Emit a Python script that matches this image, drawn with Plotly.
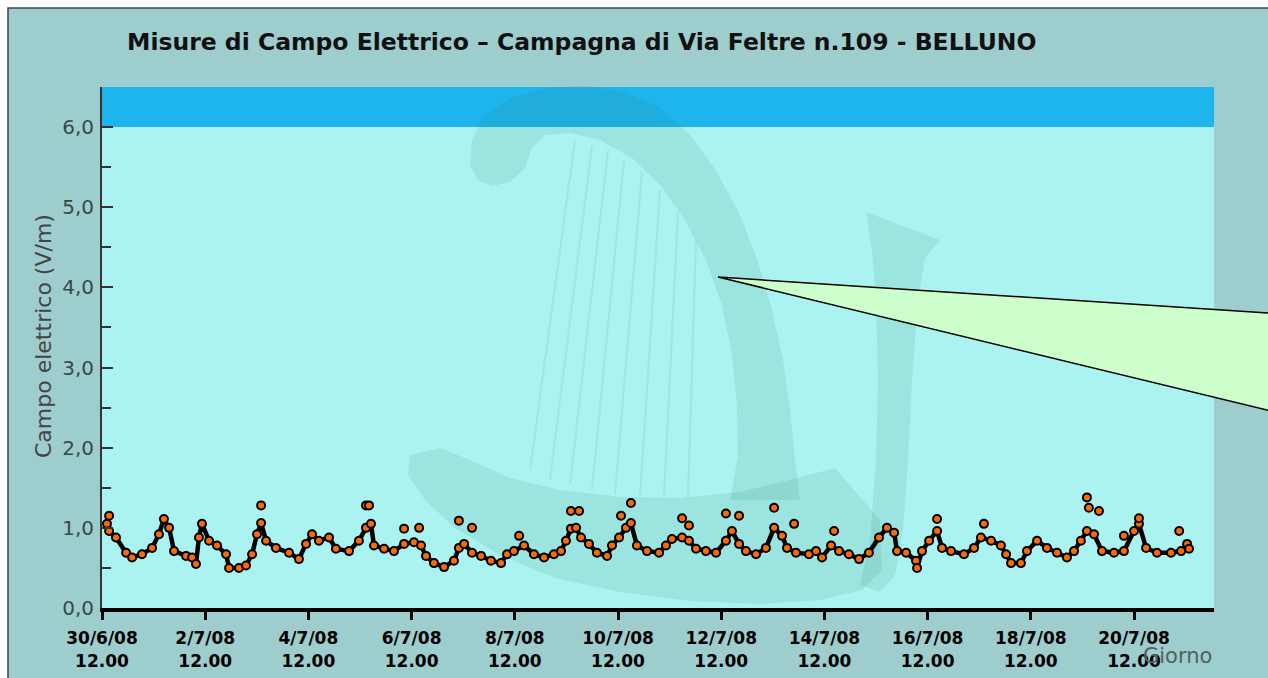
import plotly.graph_objects as go
import pandas as pd

# ---- data ----
start = pd.Timestamp("2008-06-30 12:00")
hours = [3.3, 6.5, 11.2, 14.0, 18.6, 23.3, 26.5, 28.8, 31.2, 33.5, 39.1, 41.9, 43.7, 45.1, 46.5,
         49.8, 53.5, 57.7, 59.1, 63.7, 67.0, 69.8, 72.1, 74.0, 76.3, 80.9, 87.0, 91.6, 94.9, 97.7,
         100.9, 105.6, 108.8, 114.9, 119.5, 122.8, 125.1, 126.5, 131.2, 135.8, 140.5, 145.1, 148.4,
         150.7, 154.4, 159.1, 163.7, 166.0, 168.4, 172.1, 176.3, 180.9, 185.6, 188.4, 191.6, 196.3,
         200.9, 205.6, 210.2, 213.5, 215.8, 218.1, 220.5, 222.8, 226.5, 230.2, 234.9, 237.2, 240.5,
         243.7, 246.0, 248.8, 253.5, 259.1, 262.3, 265.1, 269.8, 273.0, 276.3, 280.9, 285.6, 290.2,
         293.0, 296.3, 299.5, 304.2, 308.8, 312.6, 316.3, 318.6, 322.8, 328.8, 332.1, 334.9, 339.1,
         342.8, 347.4, 352.1, 356.7, 361.4, 365.1, 368.4, 369.8, 374.0, 378.6, 379.1, 381.4, 384.7,
         388.4, 390.7, 394.9, 400.9, 405.6, 408.8, 413.5, 418.1, 420.5, 422.8, 427.4, 430.2, 434.9,
         439.5, 444.2, 448.8, 452.1, 455.3, 458.1, 461.4, 465.1, 470.7, 475.3, 480.0, 482.3, 485.6,
         490.7, 497.2, 501.9, 504.7, 505.6]
values = [0.96, 0.88, 0.69, 0.63, 0.67, 0.75, 0.92, 1.11, 1.00, 0.71, 0.65, 0.63, 0.55, 0.88, 1.05,
          0.84, 0.78, 0.67, 0.50, 0.50, 0.53, 0.67, 0.92, 1.06, 0.84, 0.75, 0.69, 0.61, 0.80, 0.92,
          0.84, 0.88, 0.74, 0.71, 0.84, 1.00, 1.05, 0.78, 0.74, 0.71, 0.80, 0.82, 0.78,
          0.65, 0.56, 0.51, 0.59, 0.75, 0.80, 0.69, 0.65, 0.59, 0.56, 0.67, 0.71, 0.78,
          0.67, 0.63, 0.67, 0.71, 0.84, 0.99, 1.00, 0.88, 0.80, 0.69, 0.65, 0.78, 0.88,
          1.00, 1.06, 0.78, 0.71, 0.69, 0.78, 0.86, 0.88, 0.84, 0.74, 0.71, 0.69, 0.84,
          0.96, 0.80, 0.71, 0.67, 0.75, 1.00, 0.90, 0.75, 0.69, 0.67, 0.71, 0.63, 0.78,
          0.71, 0.67, 0.61, 0.69, 0.88, 1.00, 0.94, 0.71, 0.69, 0.59, 0.50, 0.71, 0.84,
          0.96, 0.75, 0.71, 0.67, 0.75, 0.88, 0.84, 0.78, 0.67, 0.56, 0.56, 0.71, 0.84,
          0.75, 0.69, 0.63, 0.71, 0.84, 0.96, 0.92, 0.71, 0.69, 0.71, 0.96, 1.05, 0.75,
          0.69, 0.69, 0.71, 0.80, 0.74]
spike_hours = [2.3, 3.3, 74.0, 122.8, 124.2, 140.5, 147.5, 166.0, 172.1, 194.0, 218.1, 221.9,
               241.4, 246.0, 269.8, 273.0, 290.2, 296.3, 312.6, 321.9, 340.5, 388.4, 410.2,
               458.1, 459.0, 463.7, 475.3, 482.3, 501.0]
spike_values = [1.05, 1.15, 1.28, 1.28, 1.28, 0.99, 1.00, 1.09, 1.00, 0.90, 1.21, 1.21,
                1.15, 1.31, 1.12, 1.03, 1.18, 1.15, 1.25, 1.05, 0.96, 1.11, 1.05,
                1.38, 1.25, 1.21, 0.90, 1.12, 0.96]
tick_days = [0, 2, 4, 6, 8, 10, 12, 14, 16, 18, 20]
tick_labels = ["30/6/08<br>12.00", "2/7/08<br>12.00", "4/7/08<br>12.00", "6/7/08<br>12.00",
               "8/7/08<br>12.00", "10/7/08<br>12.00", "12/7/08<br>12.00", "14/7/08<br>12.00",
               "16/7/08<br>12.00", "18/7/08<br>12.00", "20/7/08<br>12.00"]
y_ticks = [0, 1, 2, 3, 4, 5, 6]
limit_low, limit_high = 6.0, 6.5

times = start + pd.to_timedelta(hours, unit="h")
spike_times = start + pd.to_timedelta(spike_hours, unit="h")
tick_times = [start + pd.Timedelta(days=d) for d in tick_days]

# ---- layout geometry ----
WIDTH, HEIGHT = 1268, 678
L, R, T, B = 102, 54, 87, 70
PW, PH = WIDTH - L - R, HEIGHT - T - B


def P(px, py):
    return (px - L) / PW, (HEIGHT - B - py) / PH


def poly(points):
    pts = [P(x, y) for x, y in points]
    return "M " + " L ".join(f"{x:.5f},{y:.5f}" for x, y in pts) + " Z"


fig = go.Figure()
fig.add_trace(go.Scatter(
    x=times, y=values, mode="lines+markers",
    line=dict(color="black", width=4.5),
    marker=dict(size=8, color="#FF6A00", line=dict(color="black", width=2)),
    showlegend=False, hoverinfo="skip"))
fig.add_trace(go.Scatter(
    x=spike_times, y=spike_values, mode="markers",
    marker=dict(size=8, color="#FF6A00", line=dict(color="black", width=2)),
    showlegend=False, hoverinfo="skip"))

shapes = []
# outer frame
x0, y0 = P(8, 8)
x1, y1 = P(1290, 700)
shapes.append(dict(type="rect", xref="paper", yref="paper", x0=x0, y0=y1, x1=x1, y1=y0,
                   fillcolor="#9DCDCD", line=dict(color="#444444", width=1.5), layer="below"))
# plot area fill
shapes.append(dict(type="rect", xref="paper", yref="paper", x0=0, y0=0, x1=1, y1=1,
                   fillcolor="#ABF3F1", line=dict(width=0), layer="below"))
# limit band
shapes.append(dict(type="rect", xref="paper", yref="paper", x0=0, x1=1,
                   y0=limit_low / limit_high, y1=1,
                   fillcolor="#1EB4EE", line=dict(width=0), layer="below"))
# watermark (harp)
wm = "rgba(40,120,110,0.12)"
arc = [(470, 165), (472, 140), (485, 115), (510, 98), (545, 88), (585, 86), (625, 92), (660, 108),
       (690, 135), (717, 172), (740, 215), (758, 262), (772, 310), (783, 360), (790, 410),
       (795, 460), (800, 500), (730, 500), (738, 455), (737, 405), (732, 355), (722, 305),
       (706, 260), (685, 220), (660, 185), (632, 158), (600, 140), (570, 133), (545, 135),
       (532, 148), (525, 168), (510, 182), (492, 186), (478, 180)]
bowl = [(410, 455), (440, 448), (470, 460), (510, 478), (560, 490), (620, 497), (680, 498),
        (740, 492), (790, 480), (835, 468), (880, 520), (882, 570), (862, 590), (820, 600),
        (760, 604), (690, 601), (620, 592), (555, 578), (500, 555), (455, 528), (425, 500),
        (408, 475)]
jstroke = [(866, 212), (940, 240), (925, 258), (918, 300), (912, 380), (908, 460), (903, 530),
           (895, 575), (880, 592), (860, 585), (870, 540), (876, 460), (878, 380), (876, 300),
           (872, 250)]
for pts in (arc, bowl, jstroke):
    shapes.append(dict(type="path", xref="paper", yref="paper", path=poly(pts),
                       fillcolor=wm, line=dict(width=0), layer="below"))
strings = [((575, 140), (530, 470)), ((592, 145), (550, 480)), ((608, 150), (570, 485)),
           ((624, 160), (592, 490)), ((642, 172), (615, 494)), ((660, 190), (640, 496)),
           ((678, 212), (664, 497)), ((696, 240), (688, 497))]
for (ax, ay), (bx, by) in strings:
    a, b = P(ax, ay), P(bx, by)
    shapes.append(dict(type="line", xref="paper", yref="paper", x0=a[0], y0=a[1], x1=b[0], y1=b[1],
                       line=dict(color="rgba(40,120,110,0.10)", width=2), layer="below"))
# callout
shapes.append(dict(type="path", xref="paper", yref="paper",
                   path=poly([(718, 277), (1275, 313.5), (1275, 412)]),
                   fillcolor="#CCFFCC", line=dict(color="black", width=1.5), layer="below"))

fig.update_layout(
    width=WIDTH, height=HEIGHT,
    margin=dict(l=L, r=R, t=T, b=B, pad=0, autoexpand=False),
    paper_bgcolor="white", plot_bgcolor="rgba(0,0,0,0)",
    separators=", ",
    shapes=shapes,
    showlegend=False,
    xaxis=dict(
        type="date", automargin=False,
        range=[start, start + pd.Timedelta(hours=517.2)],
        tickvals=tick_times, ticktext=tick_labels,
        ticks="outside", ticklen=8, tickwidth=3, tickcolor="black",
        showline=True, linecolor="black", linewidth=4,
        showgrid=False, zeroline=False,
        tickfont=dict(family="DejaVu Sans", size=17, color="black", weight="bold"),
        ticklabelstandoff=4,
    ),
    yaxis=dict(
        range=[0, limit_high], automargin=False,
        tickvals=y_ticks, tickformat=".1f",
        ticks="inside", ticklen=11, tickwidth=2, tickcolor="#333333",
        minor=dict(dtick=0.5, ticks="inside", ticklen=9, tickwidth=2, tickcolor="#333333"),
        showline=True, linecolor="#333333", linewidth=2,
        showgrid=False, zeroline=False,
        tickfont=dict(family="DejaVu Sans", size=20, color="#3A4848"),
        ticklabelstandoff=2,
    ),
)

tx, ty = P(581, 42)
fig.add_annotation(text="Misure di Campo Elettrico – Campagna di Via Feltre n.109 - BELLUNO",
                   xref="paper", yref="paper", x=tx, y=ty, xanchor="center", yanchor="middle",
                   showarrow=False,
                   font=dict(family="DejaVu Sans", size=23.5, color="#111111", weight="bold"))
ax_, ay_ = P(43, 336)
fig.add_annotation(text="Campo elettrico (V/m)", xref="paper", yref="paper", x=ax_, y=ay_,
                   xanchor="center", yanchor="middle",
                   textangle=-90, showarrow=False,
                   font=dict(family="DejaVu Sans", size=22, color="#444444"))
gx, gy = P(1177, 656)
fig.add_annotation(text="Giorno", xref="paper", yref="paper", x=gx, y=gy,
                   xanchor="center", yanchor="middle", showarrow=False,
                   font=dict(family="DejaVu Sans", size=21, color="#556060"))

fig.write_html("out.html", config={"displayModeBar": False},
               post_script="document.body.style.margin='0';document.body.style.overflow='hidden';")
